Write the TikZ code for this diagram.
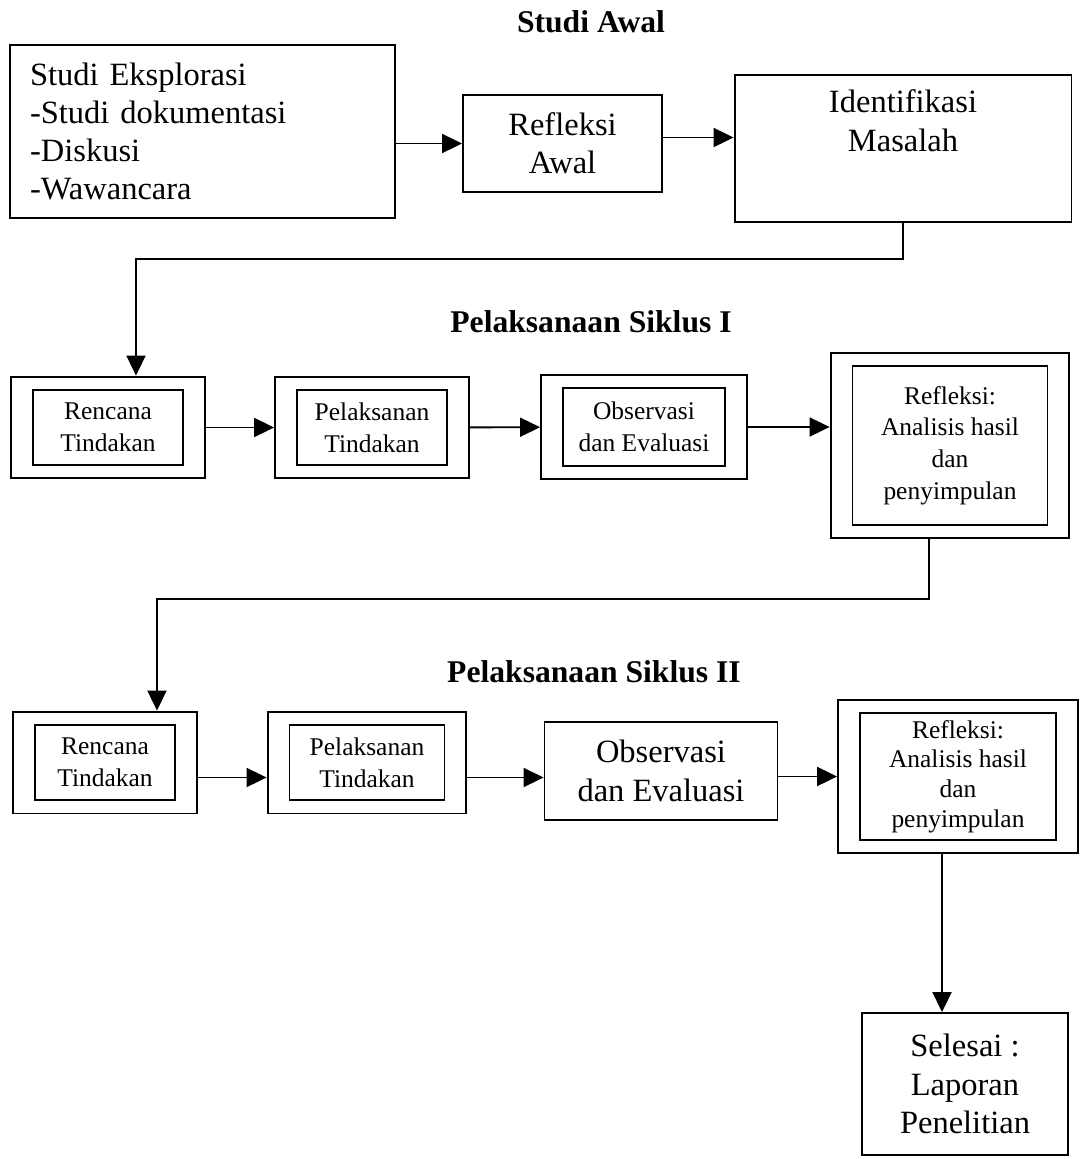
\documentclass[tikz,border=0pt]{standalone}
\usepackage{fontspec}
\setmainfont{Liberation Serif}
\usetikzlibrary{positioning,arrows.meta,fit}

\begin{document}
\begin{tikzpicture}[x=0.02cm, y=-0.02cm,
  box/.style={rectangle, draw, line width=1.1pt, align=center, inner sep=2pt,
              font={\fontsize{18.5}{21.8}\selectfont}},
  inbox/.style={rectangle, draw, line width=1.1pt, align=center, inner sep=2pt,
                minimum height=1.5cm, font={\fontsize{14.5}{18}\selectfont}},
  outbox/.style={rectangle, draw, line width=1.1pt, inner xsep=0.42cm, inner ysep=0.25cm},
  title/.style={font={\fontsize{18}{21}\selectfont\bfseries}},
  >={Triangle[length=0.4cm,width=0.38cm]}, line width=1.1pt
]
  \useasboundingbox (0,0) rectangle (1081,1159);

  \node[title] (t0) at (591,22) {Studi Awal};
  \node[title] (t1) at (591,322) {Pelaksanaan Siklus I};
  \node[title] (t2) at (594,672) {Pelaksanaan Siklus II};

  \node[box, text width=6.9cm, align=left, inner xsep=0.4cm, minimum height=3.46cm]
    (studi) at (202.5,131.5) {Studi Eksplorasi\\-Studi dokumentasi\\-Diskusi\\-Wawancara};
  \node[box, minimum width=3.98cm, minimum height=1.94cm] (refaw) at (562.5,143.5) {Refleksi\\Awal};
  \node[box, minimum width=6.74cm, minimum height=2.94cm] (ident) at (903,148.5) {};
  \node[below=0.18cm of ident.north, align=center, font={\fontsize{18.5}{21.8}\selectfont}]
    (identtxt) {Identifikasi\\Masalah};

  \node[inbox, minimum width=3cm] (ren1) at (108,427.5) {Rencana\\Tindakan};
  \node[outbox, fit=(ren1)] (ren1o) {};
  \node[inbox, minimum width=3cm] (pel1) at (372,427.5) {Pelaksanan\\Tindakan};
  \node[outbox, fit=(pel1)] (pel1o) {};
  \node[inbox, minimum width=3.24cm, minimum height=1.56cm] (obs1) at (644,427) {Observasi\\dan Evaluasi};
  \node[outbox, fit=(obs1)] (obs1o) {};
  \node[inbox, minimum width=3.9cm, minimum height=3.18cm] (ref1) at (950,445.5)
    {Refleksi:\\Analisis hasil\\dan\\penyimpulan};
  \node[outbox, fit=(ref1)] (ref1o) {};

  \node[inbox, minimum width=2.8cm] (ren2) at (105,762.5) {Rencana\\Tindakan};
  \node[outbox, fit=(ren2)] (ren2o) {};
  \node[inbox, minimum width=3.1cm] (pel2) at (367,762.5) {Pelaksanan\\Tindakan};
  \node[outbox, fit=(pel2)] (pel2o) {};
  \node[box, minimum width=4.66cm, minimum height=1.96cm] (obs2) at (661,771) {Observasi\\dan Evaluasi};
  \node[inbox, minimum width=3.92cm, minimum height=2.54cm, font={\fontsize{14.5}{16.8}\selectfont}]
    (ref2) at (958,776.5) {Refleksi:\\Analisis hasil\\dan\\penyimpulan};
  \node[outbox, fit=(ref2)] (ref2o) {};
  \node[box, minimum width=4.12cm, minimum height=2.84cm] (sel) at (965,1084)
    {Selesai :\\Laporan\\Penelitian};

  \draw[->] (studi.east |- refaw.west) -- (refaw.west);
  \draw[->] ([yshift=0.12cm]refaw.east) -- ([yshift=0.12cm]refaw.east -| ident.west);
  \draw[->] (ident.south) -- ++(0,36) -| ([xshift=0.56cm]ren1o.north);
  \draw[->] (ren1o) -- (pel1o);
  \draw[->] (pel1o) -- (obs1o);
  \draw[->] (obs1o.east) -- (obs1o.east -| ref1o.west);
  \draw[->] ([xshift=-0.42cm]ref1o.south) -- ++(0,60) -| ([xshift=1.04cm]ren2o.north);
  \draw[->] ([yshift=-0.3cm]ren2o.east) -- ([yshift=-0.3cm]ren2o.east -| pel2o.west);
  \draw[->] ([yshift=-0.3cm]pel2o.east) -- ([yshift=-0.3cm]pel2o.east -| obs2.west);
  \draw[->] (ref2o.west -| obs2.east) -- (ref2o.west);
  \draw[->] ([xshift=-0.32cm]ref2o.south) -- ([xshift=-0.32cm]ref2o.south |- sel.north);
\end{tikzpicture}
\end{document}
